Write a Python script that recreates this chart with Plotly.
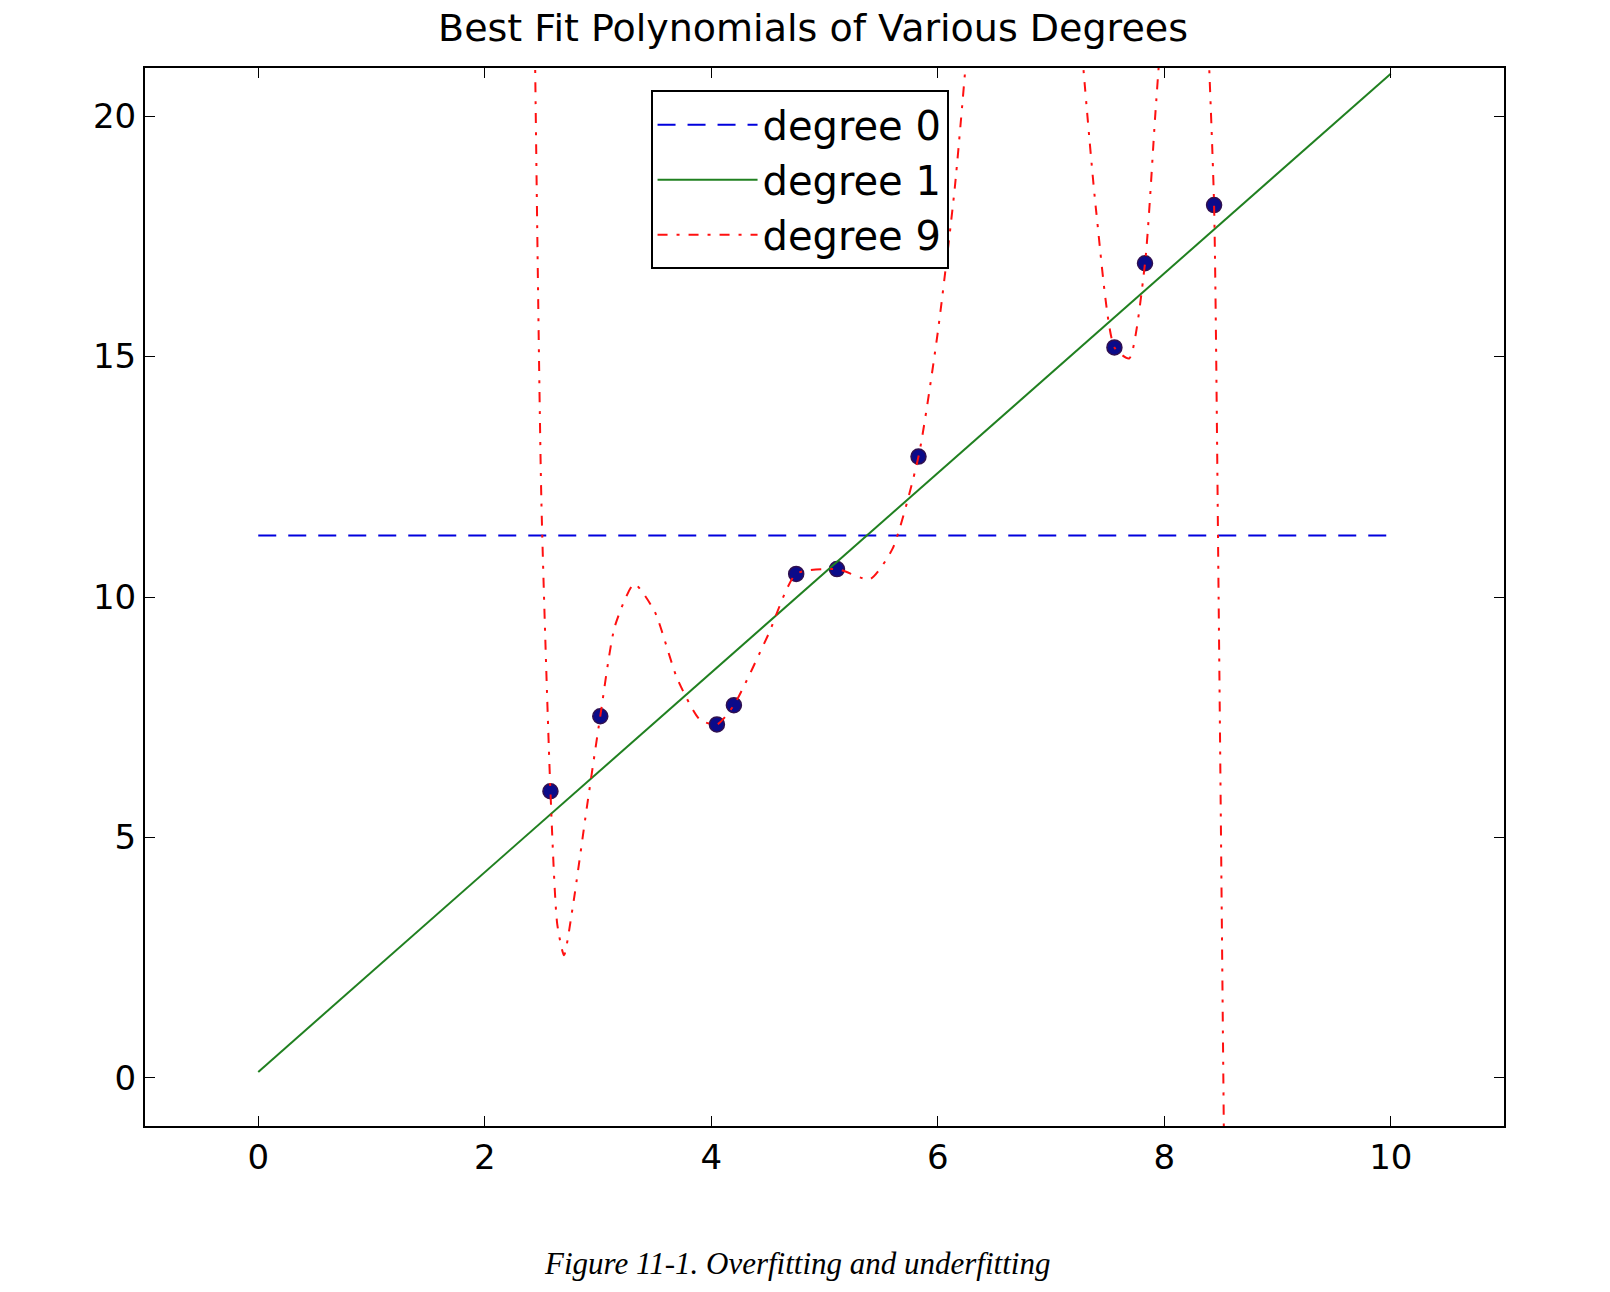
import plotly.graph_objects as go

# data points
pts_x = [2.58, 3.02, 4.05, 4.20, 4.75, 5.11, 5.83, 7.56, 7.83, 8.44]
pts_y = [5.96, 7.52, 7.35, 7.75, 10.48, 10.58, 12.92, 15.19, 16.94, 18.15]

deg0_x = [0, 10]
deg0_y = [11.28, 11.28]

deg1_x = [0, 10]
deg1_y = [0.125, 20.88]

# degree 9 curve (None = leaves the plot)
deg9_x = [2.44, 2.50, 2.58, 2.64, 2.70, 2.78, 2.90, 3.02, 3.15, 3.32, 3.50, 3.70,
          3.90, 4.05, 4.20, 4.50, 4.75, 5.11, 5.40, 5.60, 5.83, 6.00, 6.15, 6.28,
          None, 7.25, 7.40, 7.56, 7.69, 7.83, 7.92, 7.98,
          None, 8.38, 8.44, 8.48, 8.53]
deg9_y = [22, 12, 5.96, 3.2, 2.55, 3.6, 5.6, 7.52, 9.4, 10.27, 9.7, 8.3,
          7.45, 7.35, 7.75, 9.2, 10.48, 10.58, 10.37, 11.0, 12.92, 15.5, 18.5, 22,
          None, 22, 18, 15.19, 14.96, 16.94, 20, 22,
          None, 22, 18.15, 10, -2]

fig = go.Figure()
fig.add_trace(go.Scatter(x=pts_x, y=pts_y, mode="markers", showlegend=False,
                         marker=dict(color="#0b0b8a", size=15, line=dict(color="#301050", width=1.5))))
fig.add_trace(go.Scatter(x=deg0_x, y=deg0_y, mode="lines", name="degree 0",
                         line=dict(color="#0000dd", width=2, dash="18px,12px")))
fig.add_trace(go.Scatter(x=deg1_x, y=deg1_y, mode="lines", name="degree 1",
                         line=dict(color="#208020", width=2)))
fig.add_trace(go.Scatter(x=deg9_x, y=deg9_y, mode="lines", name="degree 9",
                         line=dict(color="#ff1010", width=2, dash="10px,9px,3px,9px",
                                   shape="spline", smoothing=0.6)))

axis = dict(showgrid=False, zeroline=False, ticks="inside", ticklen=10, mirror="ticks",
            showline=True, linecolor="black", linewidth=2, tickcolor="black",
            tickfont=dict(family="DejaVu Sans", size=34, color="black"))
fig.update_xaxes(range=[-1, 11], tickvals=[0, 2, 4, 6, 8, 10], **axis)
fig.update_yaxes(range=[-1, 21], tickvals=[0, 5, 10, 15, 20], **axis)

fig.update_layout(
    width=1610, height=1292,
    margin=dict(l=137, r=114, t=60, b=174),
    plot_bgcolor="white", paper_bgcolor="white",
    title=dict(text="Best Fit Polynomials of Various Degrees", x=0.5, xanchor="center",
               y=0.985, yanchor="middle", font=dict(family="DejaVu Sans", size=38, color="black")),
    legend=dict(x=0.372, y=0.979, xanchor="left", yanchor="top", bgcolor="white",
                bordercolor="black", borderwidth=2, itemwidth=100, tracegroupgap=8,
                font=dict(family="DejaVu Sans", size=40, color="black")),
    annotations=[dict(text="<i>Figure 11-1. Overfitting and underfitting</i>",
                      xref="paper", yref="paper", x=0.48, y=-0.13, yanchor="middle",
                      showarrow=False,
                      font=dict(family="Liberation Serif", size=31, color="black"))],
)
fig.write_html("out.html")
